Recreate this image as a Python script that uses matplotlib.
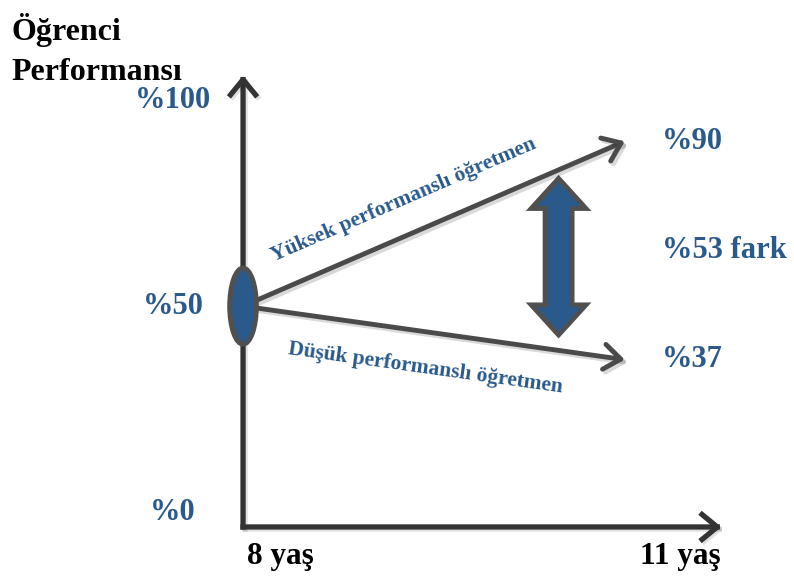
import numpy as np
import matplotlib
matplotlib.use("Agg")
import matplotlib.pyplot as plt
import matplotlib.patheffects as pe
from matplotlib.patches import Ellipse, Polygon

plt.rcParams["font.family"] = ["Liberation Serif", "DejaVu Serif"]
plt.rcParams["font.weight"] = "bold"

# Data: student performance (%) at age 8 and age 11
ages = [8, 11]
age_labels = ["8 yaş", "11 yaş"]
start_score = 50
end_scores = [90, 37]
line_labels = ["Yüksek performanslı öğretmen", "Düşük performanslı öğretmen"]
axis_ticks = [100, 50, 0]

BLUE = "#2a5a8c"
DARK = "#333333"
GRAY = "#4a4a4a"
EDGE = "#505050"

fig = plt.figure(figsize=(7.94, 5.76), dpi=100)
ax = fig.add_axes([0, 0, 1, 1])
ax.set_xlim(6.09, 12.33)
ax.set_ylim(-15.5, 124.3)
ax.axis("off")

# Axes drawn as arrows
axis_y0 = -3.6
axis_style = dict(arrowstyle="->,head_length=0.55,head_width=0.45", lw=3.8,
                  color=DARK, shrinkA=0, shrinkB=0, mutation_scale=20,
                  capstyle="projecting",
                  path_effects=[pe.SimpleLineShadow(offset=(1.5, -1.5), alpha=0.12), pe.Normal()])
ax.annotate("", xy=(ages[0], 106), xytext=(ages[0], axis_y0), arrowprops=axis_style)
ax.annotate("", xy=(11.76, axis_y0), xytext=(ages[0], axis_y0), arrowprops=axis_style)

# Y labels
for v in axis_ticks:
    ax.text(7.45, v, f"%{v}", color=BLUE, fontsize=22, ha="center", va="center")

# X labels
ax.text(ages[0] + 0.03, -10.7, age_labels[0], fontsize=22.5, ha="left", va="center")
ax.text(11.75, -10.7, age_labels[1], fontsize=22.5, ha="right", va="center")

# Title
fig.text(0.015, 1 - 30 / 576, "Öğrenci", fontsize=23, ha="left", va="center")
fig.text(0.015, 1 - 72 / 576, "Performansı", fontsize=23, ha="left", va="center")

# Performance lines
line_style = dict(arrowstyle="->,head_length=0.6,head_width=0.45", lw=3.5,
                  color=GRAY, shrinkA=0, shrinkB=0, mutation_scale=20,
                  path_effects=[pe.SimpleLineShadow(offset=(2, -2), alpha=0.15), pe.Normal()])
for score in end_scores:
    ax.annotate("", xy=(ages[1], score), xytext=(ages[0], start_score), arrowprops=line_style)
    ax.text(11.29, score, f"%{score}", color=BLUE, fontsize=22, ha="left", va="center")


def disp_angle(p0, p1):
    a, b = ax.transData.transform([p0, p1])
    return np.degrees(np.arctan2(b[1] - a[1], b[0] - a[0]))


# Labels along the lines
label_pos = [(9.37, 24), (9.47, -26)]
for score, text, (x, off) in zip(end_scores, line_labels, label_pos):
    ang = disp_angle((ages[0], start_score), (ages[1], score))
    y = start_score + (score - start_score) * (x - ages[0]) / (ages[1] - ages[0])
    t = np.radians(ang)
    ax.annotate(text, xy=(x, y), xytext=(-np.sin(t) * off, np.cos(t) * off),
                textcoords="offset points", rotation=ang, rotation_mode="anchor",
                ha="center", va="center", color=BLUE, fontsize=15.5)

# Starting point
ax.add_patch(Ellipse((ages[0], start_score), width=0.21, height=18.5,
                     fc=BLUE, ec=EDGE, lw=3.5, zorder=5))

# Gap arrow
gap = end_scores[0] - end_scores[1]
cx, top, bot = 10.48, 81, 43
hw, sw, hl = 0.215, 0.106, 7.3
pts = [(cx, top), (cx + hw, top - hl), (cx + sw, top - hl), (cx + sw, bot + hl),
       (cx + hw, bot + hl), (cx, bot), (cx - hw, bot + hl), (cx - sw, bot + hl),
       (cx - sw, top - hl), (cx - hw, top - hl)]
ax.add_patch(Polygon(pts, closed=True, fc=BLUE, ec=EDGE, lw=3.5, joinstyle="miter", zorder=4))
ax.text(11.29, sum(end_scores) / 2, f"%{gap} fark", color=BLUE, fontsize=22,
        ha="left", va="center")

fig.savefig("out.png", dpi=100)
